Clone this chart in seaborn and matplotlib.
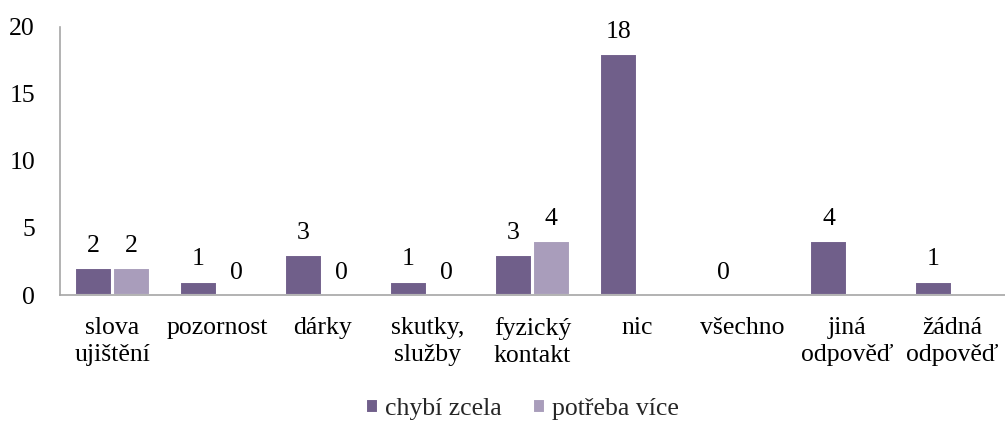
import numpy as np
import pandas as pd
import matplotlib
matplotlib.use("Agg")
import matplotlib.pyplot as plt
import seaborn as sns

""" Data """
categories = ["slova\nujištění", "pozornost", "dárky", "skutky,\nslužby", "fyzický\nkontakt",
              "nic", "všechno", "jiná\nodpověď", "žádná\nodpověď"]
chybi_zcela = [2, 1, 3, 1, 3, 18, 0, 4, 1]
potreba_vice = [2, 0, 0, 0, 4, np.nan, np.nan, np.nan, np.nan]
series_names = ["chybí zcela", "potřeba více"]
colors = ["#6E5891", "#A898C0"]

df = pd.DataFrame({
    "kategorie": categories * 2,
    "pocet": chybi_zcela + potreba_vice,
    "serie": [series_names[0]] * len(categories) + [series_names[1]] * len(categories),
})

""" Plot """
sns.set_style("white")
plt.rcParams["font.family"] = ["Liberation Serif", "DejaVu Serif"]
fs = 18.5

fig = plt.figure(figsize=(10.05, 4.23), dpi=100)
ax = fig.add_axes([0.0597, 0.3026, 0.9403, 0.6336])

sns.barplot(data=df, x="kategorie", y="pocet", hue="serie", palette=colors,
            width=0.72, gap=0.04, edgecolor="white", linewidth=1.5,
            errorbar=None, ax=ax)

for c in ax.containers:
    ax.bar_label(c, fmt="%g", padding=8, fontsize=fs, color="black")

ax.set_ylim(0, 20)
ax.set_yticks([0, 5, 10, 15, 20])
ax.set_xlim(-0.5, len(categories) - 0.5)
ax.set_xlabel("")
ax.set_ylabel("")
ax.tick_params(axis="both", length=0, labelsize=fs, colors="black")
ax.tick_params(axis="x", pad=16)
ax.tick_params(axis="y", pad=18)
for lbl in ax.get_xticklabels():
    lbl.set_linespacing(1.3)

for s in ["top", "right"]:
    ax.spines[s].set_visible(False)
for s in ["left", "bottom"]:
    ax.spines[s].set_color("#A6A6A6")
    ax.spines[s].set_linewidth(1.2)

handles, labels = ax.get_legend_handles_labels()
ax.legend_.remove()
fig.legend(handles, labels, loc="center", bbox_to_anchor=(0.52, 0.032),
           ncol=2, frameon=False, fontsize=fs, handlelength=0.45, handleheight=0.45,
           handletextpad=0.3, columnspacing=1.2)

fig.savefig("out.png", dpi=100)
